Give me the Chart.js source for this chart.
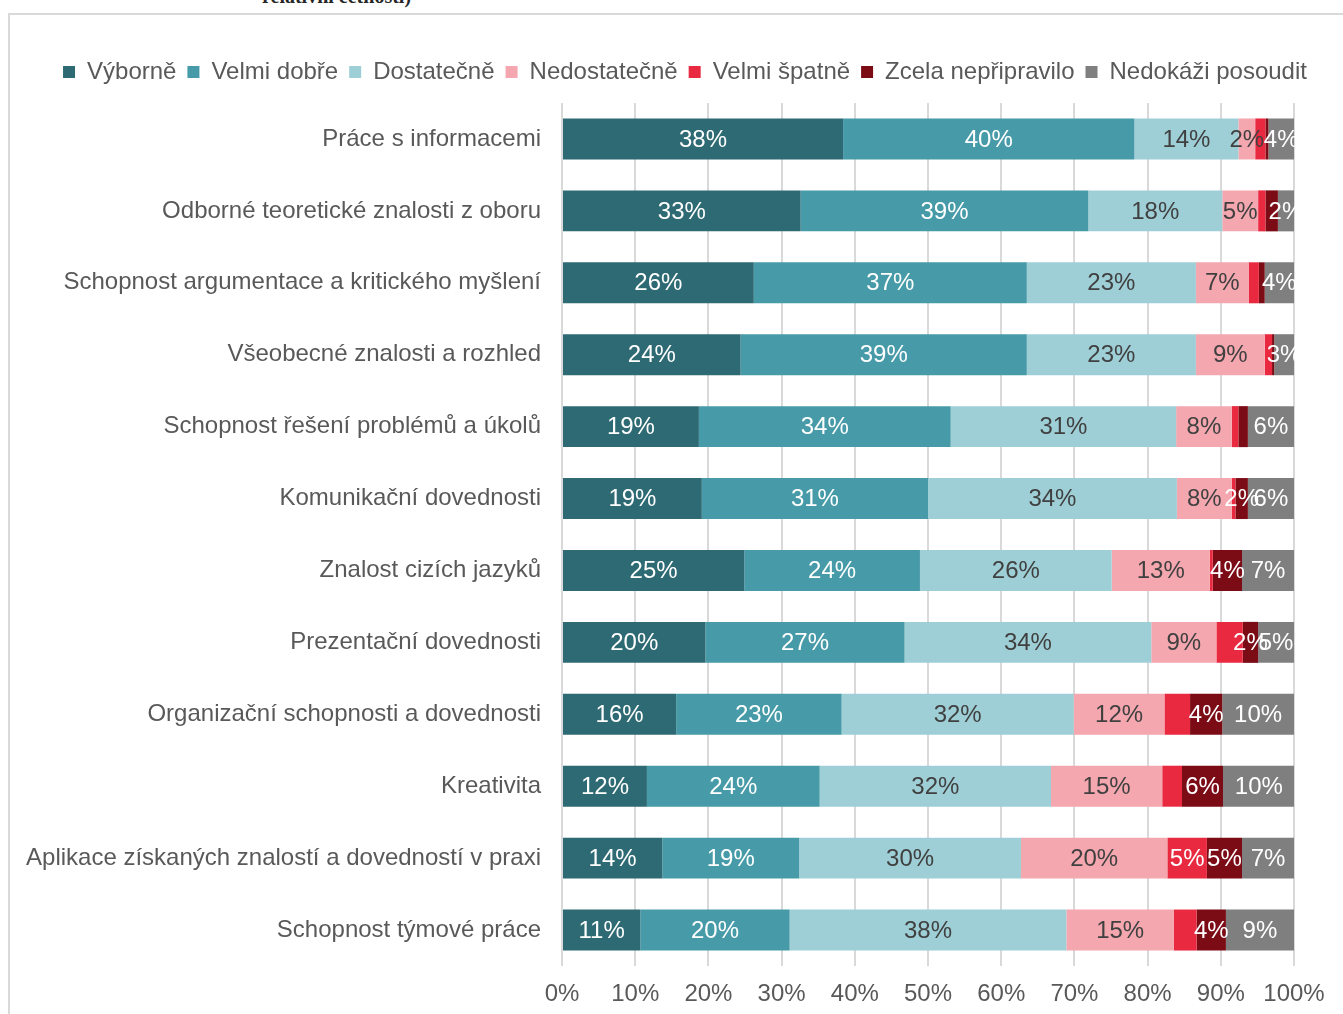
<!DOCTYPE html>
<html lang="cs">
<head>
<meta charset="utf-8">
<title>Hodnocení připravenosti</title>
<script src="https://cdn.jsdelivr.net/npm/chart.js@4.4.1/dist/chart.umd.min.js"></script>
<style>
  html, body { margin: 0; padding: 0; background: #fff; overflow: hidden; }
  #page { position: relative; width: 1343px; height: 1014px; overflow: hidden; }
  #cut-title {
    position: absolute; left: 262px; top: -14px;
    font: bold 20px "Liberation Serif", "DejaVu Serif", serif; line-height: 20px;
    color: #262626; white-space: nowrap;
  }
  #frame {
    position: absolute; left: 8px; top: 13px; width: 1400px; height: 1100px;
    border: 2px solid #d9d9d9; box-sizing: border-box;
  }
  #chart { position: absolute; left: 0; top: 0; }
</style>
</head>
<body>
<div id="page">
  <div id="cut-title">relativní četnosti)</div>
  <div id="frame"></div>
  <canvas id="chart" width="1343" height="1014"></canvas>
</div>
<script>
/* ===== Data ===== */
const categories = [
  "Práce s informacemi",
  "Odborné teoretické znalosti z oboru",
  "Schopnost argumentace a kritického myšlení",
  "Všeobecné znalosti a rozhled",
  "Schopnost řešení problémů a úkolů",
  "Komunikační dovednosti",
  "Znalost cizích jazyků",
  "Prezentační dovednosti",
  "Organizační schopnosti a dovednosti",
  "Kreativita",
  "Aplikace získaných znalostí a dovedností v praxi",
  "Schopnost týmové práce",
];

const seriesNames = [
  "Výborně", "Velmi dobře", "Dostatečně", "Nedostatečně",
  "Velmi špatně", "Zcela nepřipravilo", "Nedokáži posoudit",
];

// percentages
const vyborne      = [38.4, 32.6, 26.2, 24.4, 18.7, 19.1, 24.9, 19.6, 15.6, 11.6, 13.7, 10.7];
const velmiDobre   = [39.8, 39.3, 37.3, 39.1, 34.4, 30.9, 24.0, 27.2, 22.6, 23.6, 18.7, 20.4];
const dostatecne   = [14.2, 18.3, 23.1, 23.1, 30.8, 34.0, 26.2, 33.7, 31.7, 31.6, 30.3, 37.8];
const nedostatecne = [2.3, 4.9, 7.2, 9.4, 7.6, 7.5, 13.4, 8.9, 12.4, 15.2, 20.0, 14.7];
const velmiSpatne  = [1.4, 1.0, 1.4, 1.0, 0.9, 0.5, 0.4, 3.6, 3.5, 2.7, 5.4, 3.1];
const zcelaNepripr = [0.4, 1.7, 0.8, 0.3, 1.3, 1.7, 4.0, 2.1, 4.4, 5.6, 4.8, 4.0];
const nedokazi     = [3.5, 2.2, 4.0, 2.7, 6.3, 6.3, 7.1, 4.9, 9.8, 9.8, 7.1, 9.3];

const xTicks = [0, 10, 20, 30, 40, 50, 60, 70, 80, 90, 100];

// segments that carry no value label in the original ("series-row")
const hiddenLabels = [
  "4-0", "5-0", "4-1", "5-1", "4-2", "5-2", "4-3", "5-3", "4-4", "5-4",
  "4-5", "4-6", "4-7", "4-8", "4-9", "4-11",
];

/* ===== Styles ===== */
const seriesColors = ["#2e6a73", "#479ba8", "#9ecfd6", "#f4a7af", "#e8293f", "#7b0c16", "#7f7f7f"];
const labelColors = ["#ffffff", "#ffffff", "#404040", "#404040", "#ffffff", "#ffffff", "#ffffff"];
const FONT = "'Liberation Sans', Arial, sans-serif";
const TEXT = "#595959";
const SIZE = 24;

/* ===== Plugins ===== */
const barLabels = {
  id: "barLabels",
  afterDatasetsDraw(chart) {
    const ctx = chart.ctx;
    ctx.save();
    ctx.font = `${SIZE}px ${FONT}`;
    ctx.textAlign = "center";
    ctx.textBaseline = "middle";
    chart.data.datasets.forEach((ds, di) => {
      chart.getDatasetMeta(di).data.forEach((bar, i) => {
        if (hiddenLabels.includes(`${di}-${i}`)) return;
        const { x, y, base } = bar.getProps(["x", "y", "base"], true);
        ctx.fillStyle = labelColors[di];
        ctx.fillText(`${Math.round(ds.data[i])}%`, (x + base) / 2, y + 1);
      });
    });
    ctx.restore();
  },
};

// extra room under the legend, and legend nudged right like in the original
const legendTweak = {
  id: "legendTweak",
  beforeInit(chart) {
    const fit = chart.legend.fit;
    chart.legend.fit = function () {
      fit.bind(chart.legend)();
      this.height += 9;
    };
  },
  afterLayout(chart) {
    chart.legend.left += 38;
    chart.legend.right += 38;
  },
};

/* ===== Chart ===== */
const allSeries = [vyborne, velmiDobre, dostatecne, nedostatecne, velmiSpatne, zcelaNepripr, nedokazi];

new Chart(document.getElementById("chart"), {
  type: "bar",
  data: {
    labels: categories,
    datasets: allSeries.map((values, i) => ({
      label: seriesNames[i],
      data: values,
      backgroundColor: seriesColors[i],
      borderWidth: 0,
      categoryPercentage: 1,
      barPercentage: 0.57,
    })),
  },
  options: {
    indexAxis: "y",
    responsive: false,
    animation: false,
    layout: { padding: { top: 49, right: 49, bottom: 8, left: 0 } },
    plugins: {
      legend: {
        position: "top",
        labels: {
          font: { family: FONT, size: SIZE },
          color: TEXT,
          boxWidth: 12,
          boxHeight: 12,
          padding: 11,
        },
      },
      tooltip: { enabled: false },
    },
    scales: {
      x: {
        stacked: true,
        min: 0,
        max: 100,
        afterBuildTicks: (scale) => { scale.ticks = xTicks.map((v) => ({ value: v })); },
        afterFit: (scale) => { scale.height = 40; },
        ticks: {
          font: { family: FONT, size: SIZE },
          color: TEXT,
          padding: 14,
          maxRotation: 0,
          callback: (v) => `${v}%`,
        },
        grid: { color: "#d9d9d9", lineWidth: 2, drawTicks: false },
        border: { display: false },
      },
      y: {
        stacked: true,
        afterFit: (scale) => { scale.width = 562; },
        ticks: {
          font: { family: FONT, size: SIZE },
          color: TEXT,
          padding: 21,
        },
        grid: { display: false, drawTicks: false },
        border: { display: false },
      },
    },
  },
  plugins: [barLabels, legendTweak],
});
</script>
</body>
</html>
